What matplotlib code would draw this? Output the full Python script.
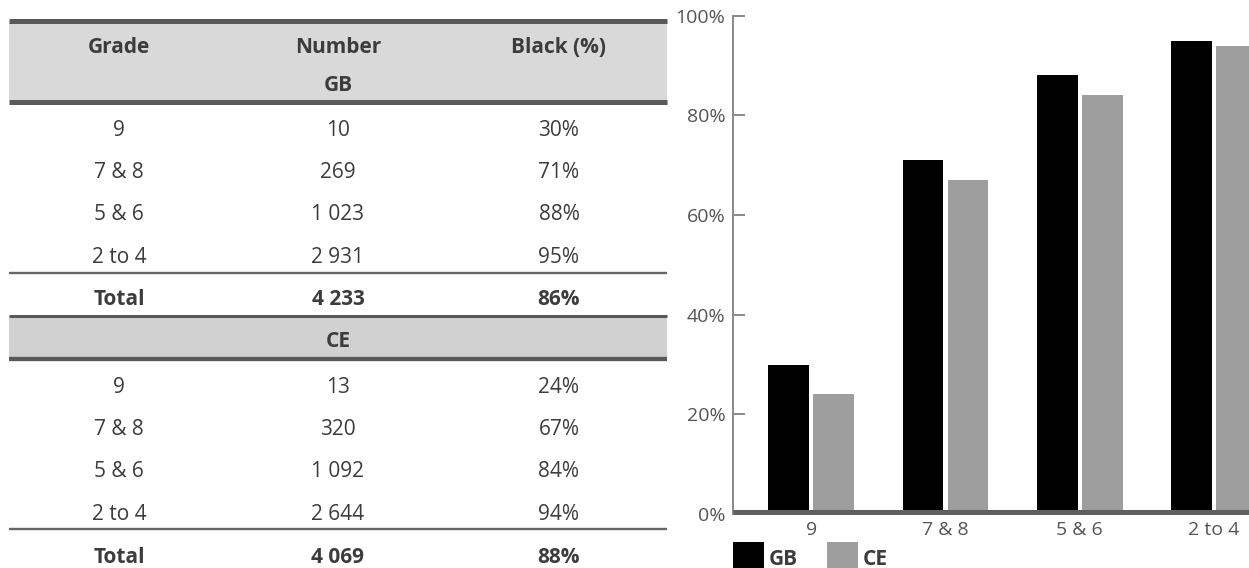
import matplotlib
matplotlib.use("Agg")
import matplotlib.pyplot as plt
from matplotlib.patches import Rectangle
import numpy as np

plt.rcParams['font.family'] = ['Open Sans', 'DejaVu Sans']

# ---- data ----
grades = ["9", "7 & 8", "5 & 6", "2 to 4"]
gb_number = [10, 269, 1023, 2931]
gb_black = [30, 71, 88, 95]
gb_total_number = 4233
gb_total_black = 86
ce_number = [13, 320, 1092, 2644]
ce_black = [24, 67, 84, 94]
ce_total_number = 4069
ce_total_black = 88
series_names = ["GB", "CE"]
y_ticks = [0, 20, 40, 60, 80, 100]
header = ["Grade", "Number", "Black (%)"]

GB_COLOR = "#000000"
CE_COLOR = "#9e9e9e"
TEXT = "#3c3c3c"
RULE = "#595959"

W, H = 1249, 568
fig = plt.figure(figsize=(W / 100, H / 100), dpi=100)

# full-figure overlay in pixel units for the table and legend
ov = fig.add_axes([0, 0, 1, 1], zorder=0)
ov.set_xlim(0, W)
ov.set_ylim(H, 0)
ov.axis("off")


def fmt_num(n):
    return f"{n:,}".replace(",", " ")


x0, x1 = 9.3, 667.3
cols = [119, 338, 559]
FS = 15


def hline(y, lw, color=RULE):
    ov.plot([x0, x1], [y, y], color=color, lw=lw, solid_capstyle="butt", zorder=3)


def band(top, bottom, fc):
    ov.add_patch(Rectangle((x0, top), x1 - x0, bottom - top, fc=fc, ec="none", zorder=1))


# GB header band
band(23, 99.5, "#d9d9d9")
hline(20.8, 3.6)
hline(101.5, 3.6)
for c, h in zip(cols, header):
    ov.text(c, 53, h, ha="center", va="baseline", fontsize=FS, fontweight="bold", color=TEXT)
ov.text(cols[1], 91, series_names[0], ha="center", va="baseline", fontsize=FS,
        fontweight="bold", color=TEXT)


def body_rows(base0, nums, pcts):
    for i, (g, n, p) in enumerate(zip(grades, nums, pcts)):
        yb = base0 + i * 42.2
        ov.text(cols[0], yb, g, ha="center", va="baseline", fontsize=FS, color=TEXT)
        ov.text(cols[1], yb, fmt_num(n), ha="center", va="baseline", fontsize=FS, color=TEXT)
        ov.text(cols[2], yb, f"{p}%", ha="center", va="baseline", fontsize=FS, color=TEXT)


def total_row(yb, n, p):
    ov.text(cols[0], yb, "Total", ha="center", va="baseline", fontsize=FS, fontweight="bold", color=TEXT)
    ov.text(cols[1], yb, fmt_num(n), ha="center", va="baseline", fontsize=FS, fontweight="bold", color=TEXT)
    ov.text(cols[2], yb, f"{p}%", ha="center", va="baseline", fontsize=FS, fontweight="bold", color=TEXT)


body_rows(136, gb_number, gb_black)
hline(272.8, 1.7, "#666666")
total_row(305, gb_total_number, gb_total_black)

# CE band
band(316.5, 357.5, "#d1d1d1")
hline(315.8, 2.2)
hline(358.8, 3.1)
ov.text(cols[1], 347, series_names[1], ha="center", va="baseline", fontsize=FS,
        fontweight="bold", color=TEXT)
body_rows(393, ce_number, ce_black)
hline(529.3, 1.7, "#666666")
total_row(563, ce_total_number, ce_total_black)

# legend
for (lx, name, col) in [(733, series_names[0], GB_COLOR), (827, series_names[1], CE_COLOR)]:
    ov.add_patch(Rectangle((lx, 541.7), 31, 40, fc=col, ec="none", zorder=2))
    ov.text(lx + 36, 565, name, ha="left", va="baseline", fontsize=FS,
            fontweight="bold", color=TEXT)

# ---- bar chart ----
left_px, top_px, zero_px = 733, 15.7, 514
ax = fig.add_axes([left_px / W, (H - zero_px) / H, 1 - left_px / W, (zero_px - top_px) / H],
                  zorder=2)
ax.set_facecolor("none")
x = np.arange(len(grades))
bw, off = 0.303, 0.168
ax.bar(x - off, gb_black, width=bw, color=GB_COLOR, zorder=2)
ax.bar(x + off, ce_black, width=bw, color=CE_COLOR, zorder=2)
ax.set_xlim(-0.582, 3.26)
ax.set_ylim(0, 100)

for s in ["top", "right", "bottom"]:
    ax.spines[s].set_visible(False)
ax.spines["left"].set_color("#8c8c8c")
ax.spines["left"].set_linewidth(1.44)

# heavy baseline
ax.axhline(0.5, color="#5f5f5f", lw=3.6, zorder=3, clip_on=False, solid_capstyle="butt")

ax.set_yticks(y_ticks)
ax.set_yticklabels([f"{t}%" for t in y_ticks])
ax.tick_params(axis="y", direction="in", length=8.6, width=1.44, color="#8c8c8c",
               labelsize=14, labelcolor="#555555", pad=5.5)
ax.set_xticks(x)
ax.set_xticklabels(grades)
ax.tick_params(axis="x", length=0, labelsize=14, labelcolor="#555555", pad=5)

fig.savefig("out.png", dpi=100)
